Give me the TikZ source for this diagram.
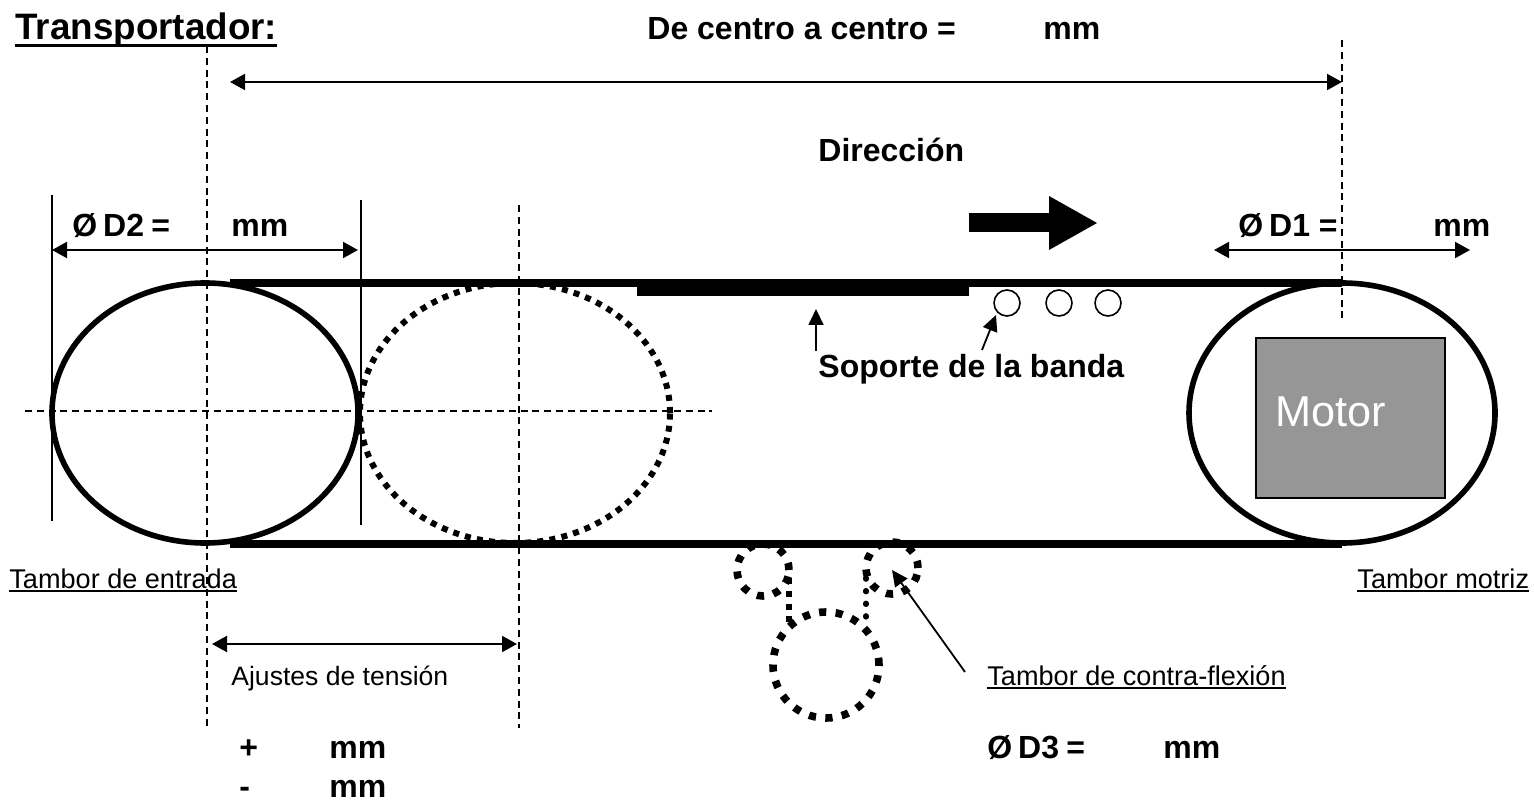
\documentclass[tikz,border=0pt]{standalone}
\usepackage{fontspec}
\setmainfont{Liberation Sans}
\usetikzlibrary{arrows.meta,shapes.geometric}
\newcommand{\ulinetxt}[3]{\setbox0\hbox{#3}\rlap{\rule[-#1]{\wd0}{#2}}\box0}
\tikzset{
 dim/.style={line width=1pt,{Triangle[length=7.5pt,width=8pt]}-{Triangle[length=7.5pt,width=8pt]}},
 ptr/.style={line width=.9pt,-{Triangle[length=8pt,width=7.5pt]}},
 dashline/.style={line width=.85pt,dash pattern=on 3.5pt off 2.4pt},
 ext/.style={line width=.85pt},
 belt/.style={line width=3.6pt},
 drum/.style={ellipse,draw,line width=2.8pt,inner sep=0pt,fill=none},
 dotdrum/.style={drum,line width=3pt,dash pattern=on 3pt off 3.1pt},
 idler/.style={circle,draw,inner sep=0pt,line width=3.8pt,dash pattern=on 3.6pt off 4.7pt},
 roller/.style={circle,draw,line width=.8pt,inner sep=0pt,minimum size=13pt},
 lab/.style={anchor=base west,inner sep=0pt,font=\fontsize{16}{18}\selectfont\bfseries},
 small/.style={anchor=base west,inner sep=0pt,font=\fontsize{13.55}{16}\selectfont},
}
\begin{document}
\begin{tikzpicture}[x=0.5pt,y=-0.5pt]
\useasboundingbox (0,0) rectangle (1534,801);
% coordinates
\coordinate (dl1t) at (207,46); \coordinate (dl1b) at (207,728);
\coordinate (dl2t) at (519,205); \coordinate (dl2b) at (519,728);
\coordinate (dl3t) at (1342,40); \coordinate (dl3b) at (1342,323);
\coordinate (hl1) at (25,411); \coordinate (hl2) at (712,411);
\coordinate (ex1t) at (52,195); \coordinate (ex1b) at (52,521);
\coordinate (ex2t) at (361,200); \coordinate (ex2b) at (361,525);
\coordinate (ta) at (230,82); \coordinate (tb) at (1342,82);
\coordinate (d2a) at (52,250); \coordinate (d2b) at (358,250);
\coordinate (d1a) at (1214,250); \coordinate (d1b) at (1470,250);
\coordinate (aja) at (212,644); \coordinate (ajb) at (517,644);
\coordinate (b1a) at (230,283); \coordinate (b1b) at (1342,283);
\coordinate (b2a) at (230,544); \coordinate (b2b) at (1342,544);
\coordinate (sa) at (637,289.5); \coordinate (sb) at (969,289.5);
\coordinate (p1a) at (816,351); \coordinate (p1b) at (816,309);
\coordinate (p2a) at (982,350); \coordinate (p2b) at (996,315);
\coordinate (p3a) at (965,672); \coordinate (p3b) at (892,570);
% drums
\node[drum,minimum width=153pt,minimum height=130pt] (drumin) at (205,413) {};
\node[dotdrum,minimum width=155pt,minimum height=130pt] (drumadj) at (515,413) {};
\node[drum,minimum width=153pt,minimum height=130pt] (drummot) at (1342,413) {};
% motor
\node[draw,fill=black!41,line width=.8pt,minimum width=94.5pt,minimum height=80pt,inner sep=0pt] (motor) at (1350.5,418) {};
\node[anchor=base west,inner sep=0pt,text=white,font=\fontsize{21.6}{24}\selectfont] (motorlab) at (1275,426) {Motor};
% belts
\draw[belt] (b1a) -- (b1b);
\draw[belt] (b2a) -- (b2b);
\draw[line width=6.5pt] (sa) -- (sb);
% rollers
\node[roller] (r1) at (1007,303) {};
\node[roller] (r2) at (1059,303) {};
\node[roller] (r3) at (1108,303) {};
% idlers
\node[idler,minimum size=26pt] (i1) at (763,570) {};
\node[idler,minimum size=26pt] (i2) at (892,568) {};
\node[idler,minimum size=53pt] (i3) at (826,665) {};
\coordinate (l1a) at (789,578); \coordinate (l1b) at (789,622);
\coordinate (l2a) at (866,578); \coordinate (l2b) at (866,628);
\draw[line width=3.2pt,dash pattern=on 3.2pt off 3.2pt] (l1a) -- (l1b);
\draw[line width=2.6pt,line cap=round,dash pattern=on 0.6pt off 5.7pt] (l2a) -- (l2b);
% dashed and extension lines
\draw[dashline] (dl1t) -- (dl1b);
\draw[dashline] (dl2t) -- (dl2b);
\draw[dashline] (dl3t) -- (dl3b);
\draw[dashline] (hl1) -- (hl2);
\draw[ext] (ex1t) -- (ex1b);
\draw[ext] (ex2t) -- (ex2b);
% dimensions
\draw[dim] (ta) -- (tb);
\draw[dim] (d2a) -- (d2b);
\draw[dim] (d1a) -- (d1b);
\draw[dim] (aja) -- (ajb);
% pointers
\draw[ptr] (p1a) -- (p1b);
\draw[ptr] (p2a) -- (p2b);
\draw[ptr] (p3a) -- (p3b);
% direction arrow
\node[fill=black,inner sep=0pt,minimum width=40pt,minimum height=9.5pt] (dirbar) at (1009,223) {};
\fill (1049,196) -- (1097,223) -- (1049,250) -- cycle;
% texts
\node[lab,font=\fontsize{18.4}{20}\selectfont\bfseries] (title) at (15,40) {\ulinetxt{3.3pt}{1.3pt}{Transportador:}};
\node[lab] (t1) at (647,40) {De centro a centro =};
\node[lab] (t2) at (1043,40) {mm};
\node[lab] (t3) at (818,162) {Dirección};
\node[lab] (t4) at (72,237) {Ø \kern-1.5pt D2 \kern-.8pt =};
\node[lab] (t5) at (231,237) {mm};
\node[lab] (t6) at (1238,237) {Ø \kern-1.5pt D1 =};
\node[lab] (t7) at (1433,237) {mm};
\node[lab] (t8) at (818,378) {Soporte de la banda};
\node[small] (t9) at (9,588) {\ulinetxt{2pt}{.95pt}{Tambor de entrada}};
\node[small] (t10) at (1357,588) {\ulinetxt{2pt}{.95pt}{Tambor motriz}};
\node[small,font=\fontsize{13.27}{16}\selectfont] (t11) at (231,685) {Ajustes de tensión};
\node[small] (t12) at (987,685) {\ulinetxt{2pt}{.95pt}{Tambor de contra-flexión}};
\node[lab] (t13) at (239,758) {+};
\node[lab] (t14) at (329,758) {mm};
\node[lab] (t15) at (239,797) {-};
\node[lab] (t16) at (329,797) {mm};
\node[lab] (t17) at (987,758) {Ø \kern-1.5pt D3 \kern-.8pt =};
\node[lab] (t18) at (1163,758) {mm};
\end{tikzpicture}
\end{document}
